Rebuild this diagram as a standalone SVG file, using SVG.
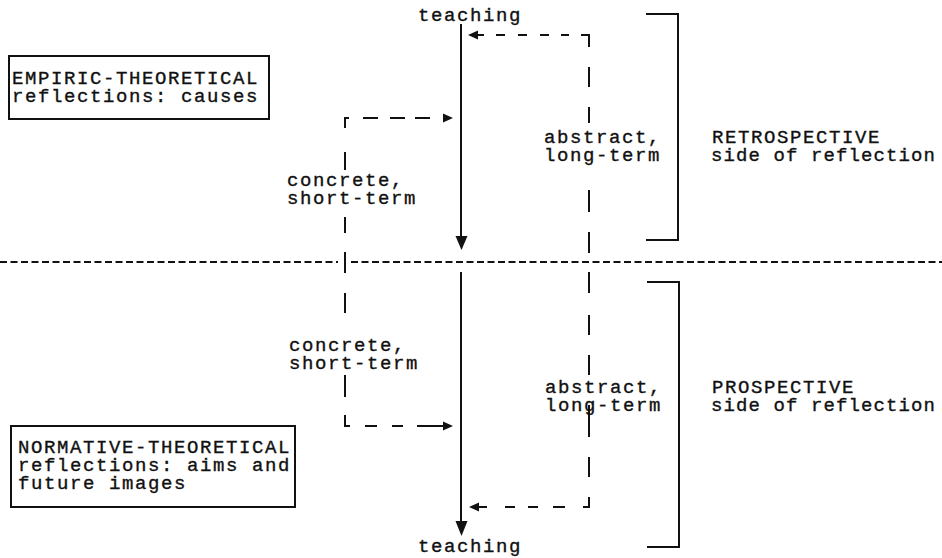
<svg xmlns="http://www.w3.org/2000/svg" width="942" height="558" viewBox="0 0 942 558">
  <style>
    text { font-family: "Liberation Mono", "Courier New", monospace; font-size: 19px; letter-spacing: 1.6px; fill: #111; stroke: #111; stroke-width: 0.35px; }
    text.tight { letter-spacing: 1.1px; }
    .solid { stroke: #111; stroke-width: 2; fill: none; }
    .dash { stroke: #111; stroke-width: 2; fill: none; }
    .divider { stroke: #111; stroke-width: 2; fill: none; stroke-dasharray: 7 3.5; }
    .box { stroke: #111; stroke-width: 2; fill: #fff; }
    .head { fill: #111; }
  </style>
  <rect width="942" height="558" fill="#fff"/>

  <!-- nodes -->
  <g id="teaching-top"><text x="418" y="21">teaching</text></g>
  <g id="teaching-bottom"><text x="418" y="552">teaching</text></g>

  <g id="empiric-box">
    <rect class="box" x="9" y="56" width="260" height="63"/>
    <text x="12" y="84">EMPIRIC-THEORETICAL</text>
    <text x="12" y="102">reflections: causes</text>
  </g>

  <g id="normative-box">
    <rect class="box" x="11" y="426" width="284" height="81"/>
    <text x="18" y="453">NORMATIVE-THEORETICAL</text>
    <text x="18" y="471">reflections: aims and</text>
    <text x="18" y="489">future images</text>
  </g>

  <g id="concrete-upper">
    <text x="287" y="186">concrete,</text>
    <text x="287" y="204">short-term</text>
  </g>
  <g id="concrete-lower">
    <text x="289" y="351">concrete,</text>
    <text x="289" y="369">short-term</text>
  </g>
  <g id="abstract-upper">
    <text x="544" y="143">abstract,</text>
    <text x="544" y="161">long-term</text>
  </g>
  <g id="abstract-lower">
    <text x="545" y="393">abstract,</text>
    <text x="545" y="411">long-term</text>
  </g>
  <g id="retrospective">
    <text x="712" y="143">RETROSPECTIVE</text>
    <text class="tight" x="711" y="161">side of reflection</text>
  </g>
  <g id="prospective">
    <text x="712" y="393">PROSPECTIVE</text>
    <text class="tight" x="711" y="411">side of reflection</text>
  </g>

  <!-- connectors -->
  <g id="connectors">
    <!-- divider between retrospective and prospective halves -->
    <line class="divider" x1="0" y1="262" x2="338" y2="262"/>
    <line class="divider" x1="351" y1="262" x2="942" y2="262"/>

    <!-- main teaching flow -->
    <line class="solid" x1="461" y1="24" x2="461" y2="238"/>
    <polygon class="head" points="455.5,236 467.5,236 461.5,250"/>
    <line class="solid" x1="461" y1="272" x2="461" y2="523"/>
    <polygon class="head" points="455.5,521 467.5,521 461.5,536"/>

    <!-- concrete, short-term loop -->
    <path class="dash" d="M349 118 H345 V128"/>
    <path class="dash" d="M363 118 H378 M390 118 H405 M415 118 H430"/>
    <polygon class="head" points="443,113.5 443,122.5 453,118"/>
    <path class="dash" d="M345 152 V170 M345 217 V233 M345 252 V273 M345 293 V313 M345 375 V397 M345 415 V426 H350"/>
    <path class="dash" d="M365 426 H377 M392 426 H403 M417 426 H444"/>
    <polygon class="head" points="443,421.5 443,430.5 453,426"/>

    <!-- abstract, long-term loop -->
    <polygon class="head" points="478,30.5 478,39.5 468,35"/>
    <path class="dash" d="M477 35 H484 M496 35 H505 M518 35 H527 M540 35 H549 M561 35 H569 M581 35 H589 V47"/>
    <path class="dash" d="M589 67 V87 M589 107 V123 M589 190 V212 M589 232 V253"/>
    <path class="dash" d="M589 272 V293 M589 315 V335 M589 355 V375 M589 405 V437 M589 457 V477 M589 497 V507 H583"/>
    <path class="dash" d="M477 507 H487 M505 507 H515 M528 507 H538 M553 507 H565"/>
    <polygon class="head" points="479,502.5 479,511.5 469,507"/>

    <!-- side brackets -->
    <path class="solid" d="M646 14 H678 V240 H646"/>
    <path class="solid" d="M647 282 H679 V547 H647"/>
  </g>
</svg>
